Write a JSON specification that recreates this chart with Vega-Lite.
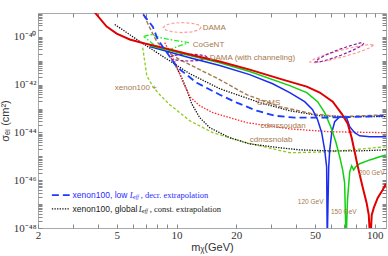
{
"$schema": "https://vega.github.io/schema/vega-lite/v6.json",
"width": 348, "height": 215,
"autosize": {"type": "none"},
"padding": {"left": 38, "top": 13, "right": 2, "bottom": 28},
"background": "white",
"config": {
  "view": {"stroke": "#a4aab0"},
  "axis": {"grid": false, "domain": false, "tickColor": "#888", "tickSize": -4, "labelPadding": 4, "labelFont": "Liberation Serif", "labelFontSize": 11, "labelColor": "#333", "titleFont": "Liberation Sans", "titleFontSize": 11, "titleFontWeight": "normal", "titleColor": "#333", "labelOverlap": false, "labelFlush": false}
},
"datasets": {
"curves": [
{"s":"red","i":0,"m":3.73,"ls":-38.77},{"s":"red","i":1,"m":3.87,"ls":-38.98},{"s":"red","i":2,"m":4.44,"ls":-39.57},{"s":"red","i":3,"m":4.99,"ls":-39.86},{"s":"red","i":4,"m":5.81,"ls":-40.11},{"s":"red","i":5,"m":6.91,"ls":-40.28},{"s":"red","i":6,"m":8.52,"ls":-40.45},{"s":"red","i":7,"m":11.66,"ls":-40.74},{"s":"red","i":8,"m":16.52,"ls":-41.03},{"s":"red","i":9,"m":23.4,"ls":-41.37},{"s":"red","i":10,"m":34.34,"ls":-41.79},{"s":"red","i":11,"m":45.4,"ls":-42.08},{"s":"red","i":12,"m":52.8,"ls":-42.33},{"s":"red","i":13,"m":61.4,"ls":-42.71},{"s":"red","i":14,"m":68.2,"ls":-43.22},{"s":"red","i":15,"m":73.1,"ls":-43.64},{"s":"red","i":16,"m":76.5,"ls":-44.22},{"s":"red","i":17,"m":79.2,"ls":-44.81},{"s":"red","i":18,"m":82.0,"ls":-45.4},{"s":"red","i":19,"m":86.9,"ls":-46.28},{"s":"red","i":20,"m":91.0,"ls":-46.95},{"s":"red","i":21,"m":93.3,"ls":-47.45},{"s":"red","i":22,"m":95.0,"ls":-48.6},{"s":"red","i":23,"m":96.6,"ls":-47.45},{"s":"red","i":24,"m":98.9,"ls":-47.16},{"s":"red","i":25,"m":103.5,"ls":-46.74},{"s":"red","i":26,"m":109.6,"ls":-46.41},{"s":"red","i":27,"m":114,"ls":-46.15},
{"s":"green","i":0,"m":7.32,"ls":-40.36},{"s":"green","i":1,"m":11.66,"ls":-40.78},{"s":"green","i":2,"m":16.52,"ls":-41.08},{"s":"green","i":3,"m":23.4,"ls":-41.45},{"s":"green","i":4,"m":37.26,"ls":-42.04},{"s":"green","i":5,"m":45.4,"ls":-42.33},{"s":"green","i":6,"m":51.5,"ls":-42.71},{"s":"green","i":7,"m":55.9,"ls":-43.17},{"s":"green","i":8,"m":60.0,"ls":-43.76},{"s":"green","i":9,"m":63.6,"ls":-44.39},{"s":"green","i":10,"m":66.6,"ls":-45.02},{"s":"green","i":11,"m":68.9,"ls":-45.57},{"s":"green","i":12,"m":70.5,"ls":-46.11},{"s":"green","i":13,"m":71.7,"ls":-48.6},{"s":"green","i":14,"m":72.9,"ls":-46.82},{"s":"green","i":15,"m":74.8,"ls":-45.65},{"s":"green","i":16,"m":76.5,"ls":-45.4},{"s":"green","i":17,"m":78.3,"ls":-45.57},{"s":"green","i":18,"m":80.1,"ls":-45.44},{"s":"green","i":19,"m":84.0,"ls":-45.31},{"s":"green","i":20,"m":94.4,"ls":-45.15},{"s":"green","i":21,"m":106,"ls":-45.02},{"s":"green","i":22,"m":114,"ls":-44.94},
{"s":"blue","i":0,"m":7.32,"ls":-40.4},{"s":"blue","i":1,"m":11.66,"ls":-40.87},{"s":"blue","i":2,"m":16.52,"ls":-41.2},{"s":"blue","i":3,"m":23.4,"ls":-41.58},{"s":"blue","i":4,"m":30.57,"ls":-41.96},{"s":"blue","i":5,"m":37.26,"ls":-42.33},{"s":"blue","i":6,"m":44.3,"ls":-42.71},{"s":"blue","i":7,"m":48.6,"ls":-43.05},{"s":"blue","i":8,"m":51.5,"ls":-43.47},{"s":"blue","i":9,"m":54.0,"ls":-44.01},{"s":"blue","i":10,"m":55.9,"ls":-44.73},{"s":"blue","i":11,"m":57.2,"ls":-45.44},{"s":"blue","i":12,"m":57.6,"ls":-48.6},{"s":"blue","i":13,"m":58.6,"ls":-45.44},{"s":"blue","i":14,"m":59.3,"ls":-44.73},{"s":"blue","i":15,"m":60.7,"ls":-44.01},{"s":"blue","i":16,"m":62.8,"ls":-43.55},{"s":"blue","i":17,"m":66.6,"ls":-43.34},{"s":"blue","i":18,"m":72.1,"ls":-43.38},{"s":"blue","i":19,"m":74.8,"ls":-43.76},{"s":"blue","i":20,"m":79.2,"ls":-44.01},{"s":"blue","i":21,"m":84.0,"ls":-44.14},{"s":"blue","i":22,"m":94.4,"ls":-44.18},{"s":"blue","i":23,"m":114,"ls":-44.18},
{"s":"bluedash","i":0,"m":6.45,"ls":-38.64},{"s":"bluedash","i":1,"m":6.67,"ls":-38.98},{"s":"bluedash","i":2,"m":7.59,"ls":-39.57},{"s":"bluedash","i":3,"m":8.04,"ls":-40.11},{"s":"bluedash","i":4,"m":8.72,"ls":-40.53},{"s":"bluedash","i":5,"m":10.14,"ls":-41.29},{"s":"bluedash","i":6,"m":12.64,"ls":-41.92},{"s":"bluedash","i":7,"m":16.52,"ls":-42.42},{"s":"bluedash","i":8,"m":20.11,"ls":-42.75},{"s":"bluedash","i":9,"m":25.37,"ls":-43.09},{"s":"bluedash","i":10,"m":31.3,"ls":-43.3},{"s":"bluedash","i":11,"m":39.5,"ls":-43.38},{"s":"bluedash","i":12,"m":52.8,"ls":-43.38},{"s":"bluedash","i":13,"m":74.8,"ls":-43.36},{"s":"bluedash","i":14,"m":114,"ls":-43.3},
{"s":"blackdot","i":0,"m":4.88,"ls":-39.48},{"s":"blackdot","i":1,"m":6.52,"ls":-40.19},{"s":"blackdot","i":2,"m":8.72,"ls":-40.87},{"s":"blackdot","i":3,"m":11.66,"ls":-41.54},{"s":"blackdot","i":4,"m":16.52,"ls":-42.17},{"s":"blackdot","i":5,"m":26.29,"ls":-42.75},{"s":"blackdot","i":6,"m":37.26,"ls":-43.09},{"s":"blackdot","i":7,"m":52.8,"ls":-43.3},{"s":"blackdot","i":8,"m":74.8,"ls":-43.34},{"s":"blackdot","i":9,"m":114,"ls":-43.34},
{"s":"snolab","i":0,"m":9.46,"ls":-40.95},{"s":"snolab","i":1,"m":10.02,"ls":-41.29},{"s":"snolab","i":2,"m":10.62,"ls":-41.71},{"s":"snolab","i":3,"m":11.26,"ls":-42.21},{"s":"snolab","i":4,"m":11.93,"ls":-42.8},{"s":"snolab","i":5,"m":13.09,"ls":-43.38},{"s":"snolab","i":6,"m":14.71,"ls":-43.8},{"s":"snolab","i":7,"m":18.55,"ls":-44.22},{"s":"snolab","i":8,"m":23.4,"ls":-44.48},{"s":"snolab","i":9,"m":33.17,"ls":-44.64},{"s":"snolab","i":10,"m":41.84,"ls":-44.73},{"s":"snolab","i":11,"m":59.3,"ls":-44.77},{"s":"snolab","i":12,"m":84.0,"ls":-44.77},{"s":"snolab","i":13,"m":114,"ls":-44.73},
{"s":"lime","i":0,"m":6.75,"ls":-40.45},{"s":"lime","i":1,"m":6.91,"ls":-41.03},{"s":"lime","i":2,"m":7.08,"ls":-41.62},{"s":"lime","i":3,"m":7.59,"ls":-42.08},{"s":"lime","i":4,"m":8.23,"ls":-42.42},{"s":"lime","i":5,"m":9.24,"ls":-42.84},{"s":"lime","i":6,"m":10.38,"ls":-43.17},{"s":"lime","i":7,"m":11.66,"ls":-43.51},{"s":"lime","i":8,"m":15.23,"ls":-44.01},{"s":"lime","i":9,"m":22.59,"ls":-44.43},{"s":"lime","i":10,"m":37.26,"ls":-44.85},{"s":"lime","i":11,"m":59.3,"ls":-44.81},{"s":"lime","i":12,"m":114,"ls":-44.6},
{"s":"soudan","i":0,"m":8.72,"ls":-40.24},{"s":"soudan","i":1,"m":9.79,"ls":-41.03},{"s":"soudan","i":2,"m":10.74,"ls":-41.87},{"s":"soudan","i":3,"m":11.66,"ls":-42.5},{"s":"soudan","i":4,"m":13.09,"ls":-42.88},{"s":"soudan","i":5,"m":15.23,"ls":-43.17},{"s":"soudan","i":6,"m":22.59,"ls":-43.59},{"s":"soudan","i":7,"m":37.26,"ls":-43.85},{"s":"soudan","i":8,"m":59.3,"ls":-43.97},{"s":"soudan","i":9,"m":114,"ls":-44.01},
{"s":"cdms","i":0,"m":6.52,"ls":-38.64},{"s":"cdms","i":1,"m":6.75,"ls":-38.98},{"s":"cdms","i":2,"m":7.32,"ls":-39.61},{"s":"cdms","i":3,"m":7.94,"ls":-40.19},{"s":"cdms","i":4,"m":8.72,"ls":-40.57},{"s":"cdms","i":5,"m":10.38,"ls":-40.95},{"s":"cdms","i":6,"m":13.09,"ls":-41.37},{"s":"cdms","i":7,"m":16.52,"ls":-41.79},{"s":"cdms","i":8,"m":22.59,"ls":-42.42},{"s":"cdms","i":9,"m":33.17,"ls":-42.92},{"s":"cdms","i":10,"m":48.6,"ls":-43.22},{"s":"cdms","i":11,"m":66.6,"ls":-43.34},{"s":"cdms","i":12,"m":114,"ls":-43.26},
{"s":"dama","i":0,"m":13.32,"ls":-39.61},{"s":"dama","i":1,"m":12.94,"ls":-39.71},{"s":"dama","i":2,"m":11.93,"ls":-39.79},{"s":"dama","i":3,"m":10.68,"ls":-39.82},{"s":"dama","i":4,"m":9.57,"ls":-39.79},{"s":"dama","i":5,"m":8.82,"ls":-39.71},{"s":"dama","i":6,"m":8.57,"ls":-39.61},{"s":"dama","i":7,"m":8.82,"ls":-39.5},{"s":"dama","i":8,"m":9.57,"ls":-39.43},{"s":"dama","i":9,"m":10.68,"ls":-39.4},{"s":"dama","i":10,"m":11.93,"ls":-39.43},{"s":"dama","i":11,"m":12.94,"ls":-39.5},{"s":"dama","i":12,"m":13.32,"ls":-39.61},
{"s":"pinkR","i":0,"m":98.7,"ls":-40.34},{"s":"pinkR","i":1,"m":94.5,"ls":-40.46},{"s":"pinkR","i":2,"m":82.9,"ls":-40.64},{"s":"pinkR","i":3,"m":68.9,"ls":-40.84},{"s":"pinkR","i":4,"m":57.1,"ls":-41.0},{"s":"pinkR","i":5,"m":49.8,"ls":-41.08},{"s":"pinkR","i":6,"m":47.1,"ls":-41.05},{"s":"pinkR","i":7,"m":49.2,"ls":-40.94},{"s":"pinkR","i":8,"m":56.1,"ls":-40.75},{"s":"pinkR","i":9,"m":67.5,"ls":-40.56},{"s":"pinkR","i":10,"m":81.3,"ls":-40.4},{"s":"pinkR","i":11,"m":93.5,"ls":-40.32},{"s":"pinkR","i":12,"m":98.7,"ls":-40.34},
{"s":"chan","i":0,"m":14.37,"ls":-40.87},{"s":"chan","i":1,"m":13.96,"ls":-40.94},{"s":"chan","i":2,"m":12.87,"ls":-40.99},{"s":"chan","i":3,"m":11.52,"ls":-41.01},{"s":"chan","i":4,"m":10.32,"ls":-40.99},{"s":"chan","i":5,"m":9.51,"ls":-40.94},{"s":"chan","i":6,"m":9.24,"ls":-40.87},{"s":"chan","i":7,"m":9.51,"ls":-40.79},{"s":"chan","i":8,"m":10.32,"ls":-40.74},{"s":"chan","i":9,"m":11.52,"ls":-40.72},{"s":"chan","i":10,"m":12.87,"ls":-40.74},{"s":"chan","i":11,"m":13.96,"ls":-40.79},{"s":"chan","i":12,"m":14.37,"ls":-40.87},
{"s":"purpleR","i":0,"m":88.3,"ls":-40.27},{"s":"purpleR","i":1,"m":85.5,"ls":-40.38},{"s":"purpleR","i":2,"m":77.5,"ls":-40.56},{"s":"purpleR","i":3,"m":67.5,"ls":-40.77},{"s":"purpleR","i":4,"m":58.4,"ls":-40.95},{"s":"purpleR","i":5,"m":52.5,"ls":-41.05},{"s":"purpleR","i":6,"m":50.2,"ls":-41.04},{"s":"purpleR","i":7,"m":51.9,"ls":-40.93},{"s":"purpleR","i":8,"m":57.2,"ls":-40.74},{"s":"purpleR","i":9,"m":65.8,"ls":-40.53},{"s":"purpleR","i":10,"m":75.9,"ls":-40.36},{"s":"purpleR","i":11,"m":84.5,"ls":-40.25},{"s":"purpleR","i":12,"m":88.3,"ls":-40.27},
{"s":"cogent","i":0,"m":6.83,"ls":-39.98},{"s":"cogent","i":1,"m":7.5,"ls":-39.9},{"s":"cogent","i":2,"m":8.23,"ls":-40.03},{"s":"cogent","i":3,"m":9.79,"ls":-40.15},{"s":"cogent","i":4,"m":11.52,"ls":-40.24},{"s":"cogent","i":5,"m":10.14,"ls":-40.4},{"s":"cogent","i":6,"m":9.03,"ls":-40.57},{"s":"cogent","i":7,"m":8.04,"ls":-40.45},{"s":"cogent","i":8,"m":7.32,"ls":-40.19},{"s":"cogent","i":9,"m":6.83,"ls":-39.98},
{"s":"legblue","i":0,"m":2.35,"ls":-46.62},{"s":"legblue","i":1,"m":2.89,"ls":-46.62},
{"s":"legblack","i":0,"m":2.35,"ls":-47.2},{"s":"legblack","i":1,"m":2.89,"ls":-47.2}
]
},
"layer": [
{"layer": [
 {"data": {"name": "curves"}, "transform": [{"filter": "datum.s == 'lime'"}], "mark": {"type": "line", "clip": true, "color": "#8ccc1e", "strokeWidth": 1.3, "strokeDash": [3, 2]}},
 {"data": {"name": "curves"}, "transform": [{"filter": "datum.s == 'snolab' || datum.s == 'blackdot' || datum.s == 'legblack'"}], "mark": {"type": "line", "clip": true, "color": "#111", "strokeWidth": 1.3, "strokeDash": [1.3, 1.3]}, "encoding": {"detail": {"field": "s"}}},
 {"data": {"name": "curves"}, "transform": [{"filter": "datum.s == 'soudan'"}], "mark": {"type": "line", "clip": true, "color": "#ff2a2a", "strokeWidth": 1.3, "strokeDash": [1.5, 1.5]}},
 {"data": {"name": "curves"}, "transform": [{"filter": "datum.s == 'cdms'"}], "mark": {"type": "line", "clip": true, "color": "#a8784c", "strokeWidth": 1.4, "strokeDash": [4, 2]}},
 {"data": {"name": "curves"}, "transform": [{"filter": "datum.s == 'dama' || datum.s == 'pinkR'"}], "mark": {"type": "line", "clip": true, "color": "#ff9a9a", "strokeWidth": 1.2, "strokeDash": [3, 2]}, "encoding": {"detail": {"field": "s"}}},
 {"data": {"name": "curves"}, "transform": [{"filter": "datum.s == 'chan' || datum.s == 'purpleR'"}], "mark": {"type": "line", "clip": true, "color": "#8a1aa0", "strokeWidth": 1.2, "strokeDash": [3, 2]}, "encoding": {"detail": {"field": "s"}}},
 {"data": {"name": "curves"}, "transform": [{"filter": "datum.s == 'cogent'"}], "mark": {"type": "line", "clip": true, "color": "#22ee22", "strokeWidth": 1.3, "strokeDash": [5, 2, 1.5, 2]}},
 {"data": {"name": "curves"}, "transform": [{"filter": "datum.s == 'blue'"}], "mark": {"type": "line", "clip": true, "color": "#1c2cf0", "strokeWidth": 1.5}},
 {"data": {"name": "curves"}, "transform": [{"filter": "datum.s == 'green'"}], "mark": {"type": "line", "clip": true, "color": "#10d010", "strokeWidth": 1.5}},
 {"data": {"name": "curves"}, "transform": [{"filter": "datum.s == 'red'"}], "mark": {"type": "line", "clip": true, "color": "#e00000", "strokeWidth": 2}},
 {"data": {"name": "curves"}, "transform": [{"filter": "datum.s == 'bluedash' || datum.s == 'legblue'"}], "mark": {"type": "line", "clip": true, "color": "#1a3cff", "strokeWidth": 1.8, "strokeDash": [7, 4]}, "encoding": {"detail": {"field": "s"}}},
 {"data": {"values": [
   {"t": "DAMA", "m": 13.56, "ls": -39.61},
   {"t": "CoGeNT", "m": 12.07, "ls": -40.32},
   {"t": "DAMA (with channeling)", "m": 14.71, "ls": -40.87},
   {"t": "xenon100 +", "m": 4.88, "ls": -42.15},
   {"t": "CDMS", "m": 25.37, "ls": -42.75},
   {"t": "cdmssoudan", "m": 26.5, "ls": -43.72},
   {"t": "cdmssnolab", "m": 23.4, "ls": -44.31}
  ]},
  "mark": {"type": "text", "align": "left", "baseline": "middle", "font": "Liberation Sans", "fontSize": 8, "color": "#a57a50"}, "encoding": {"text": {"field": "t"}}},
 {"data": {"values": [
   {"t": "120 GeV", "m": 47.5, "ls": -46.91},
   {"t": "150 GeV", "m": 69.8, "ls": -47.33},
   {"t": "200 GeV", "m": 96.6, "ls": -45.69}
  ]},
  "mark": {"type": "text", "align": "center", "baseline": "middle", "font": "Liberation Sans", "fontSize": 6.5, "color": "#a57a50"}, "encoding": {"text": {"field": "t"}}},
 {"data": {"values": [
   {"t": "xenon100, low", "m": 2.99, "ls": -46.62, "c": "b"},
   {"t": "xenon100, global", "m": 2.99, "ls": -47.2, "c": "k"}
  ]},
  "mark": {"type": "text", "align": "left", "baseline": "middle", "font": "Liberation Sans", "fontSize": 8.5}, "encoding": {"text": {"field": "t"}, "color": {"field": "c", "type": "nominal", "scale": {"domain": ["b", "k"], "range": ["#2a2aff", "#222"]}, "legend": null}}},
 {"data": {"values": [
   {"t": "L", "m": 5.81, "ls": -46.62, "c": "b"},
   {"t": "L", "m": 6.45, "ls": -47.2, "c": "k"}
  ]},
  "mark": {"type": "text", "align": "left", "baseline": "middle", "font": "Liberation Serif", "fontStyle": "italic", "fontSize": 8.5}, "encoding": {"text": {"field": "t"}, "color": {"field": "c", "type": "nominal", "scale": {"domain": ["b", "k"], "range": ["#2a2aff", "#222"]}, "legend": null}}},
 {"data": {"values": [
   {"t": "eff", "m": 6.05, "ls": -46.72, "c": "b"},
   {"t": "eff", "m": 6.71, "ls": -47.3, "c": "k"}
  ]},
  "mark": {"type": "text", "align": "left", "baseline": "middle", "font": "Liberation Serif", "fontStyle": "italic", "fontSize": 5.5}, "encoding": {"text": {"field": "t"}, "color": {"field": "c", "type": "nominal", "scale": {"domain": ["b", "k"], "range": ["#2a2aff", "#222"]}, "legend": null}}},
 {"data": {"values": [
   {"t": ", decr. extrapolation", "m": 6.6, "ls": -46.62, "c": "b"},
   {"t": ", const. extrapolation", "m": 7.32, "ls": -47.2, "c": "k"}
  ]},
  "mark": {"type": "text", "align": "left", "baseline": "middle", "font": "Liberation Serif", "fontSize": 8.5}, "encoding": {"text": {"field": "t"}, "color": {"field": "c", "type": "nominal", "scale": {"domain": ["b", "k"], "range": ["#2a2aff", "#222"]}, "legend": null}}}
 ],
 "encoding": {
  "x": {"field": "m", "type": "quantitative", "scale": {"type": "log", "domain": [2, 114], "nice": false},
   "axis": {"values": [2,3,4,5,6,7,8,9,10,20,30,40,50,60,70,80,90,100], "labelExpr": "indexof([2,5,10,20,50,100], datum.value) >= 0 ? datum.label : ''", "labelPadding": 5, "title": "mᵪ(GeV)", "titlePadding": 1}},
  "y": {"field": "ls", "type": "quantitative", "scale": {"domain": [-48, -39], "nice": false, "zero": false},
   "axis": {"values": [-48,-47.699,-47.523,-47.398,-47.301,-47.222,-47.155,-47.097,-47.046,-47,-46.699,-46.523,-46.398,-46.301,-46.222,-46.155,-46.097,-46.046,-46,-45.699,-45.523,-45.398,-45.301,-45.222,-45.155,-45.097,-45.046,-45,-44.699,-44.523,-44.398,-44.301,-44.222,-44.155,-44.097,-44.046,-44,-43.699,-43.523,-43.398,-43.301,-43.222,-43.155,-43.097,-43.046,-43,-42.699,-42.523,-42.398,-42.301,-42.222,-42.155,-42.097,-42.046,-42,-41.699,-41.523,-41.398,-41.301,-41.222,-41.155,-41.097,-41.046,-41,-40.699,-40.523,-40.398,-40.301,-40.222,-40.155,-40.097,-40.046,-40,-39.699,-39.523,-39.398,-39.301,-39.222,-39.155,-39.097,-39.046],
    "labelExpr": "datum.value == -48 ? '10⁻⁴⁸' : datum.value == -46 ? '10⁻⁴⁶' : datum.value == -44 ? '10⁻⁴⁴' : datum.value == -42 ? '10⁻⁴²' : datum.value == -40 ? '10⁻⁴⁰' : ''",
    "labelPadding": 6, "title": "σₑₗ (cm²)", "titlePadding": 3}},
  "order": {"field": "i", "type": "quantitative"}
 }
},
{"data": {"values": [{"m": 10, "ls": -44}]},
 "mark": {"type": "point", "opacity": 0},
 "encoding": {
  "x": {"field": "m", "type": "quantitative", "scale": {"type": "log", "domain": [2, 114], "nice": false},
   "axis": {"orient": "top", "labels": false, "title": null, "values": [2,3,4,5,6,7,8,9,10,20,30,40,50,60,70,80,90,100]}},
  "y": {"field": "ls", "type": "quantitative", "scale": {"domain": [-48, -39], "nice": false, "zero": false},
   "axis": {"orient": "right", "labels": false, "title": null, "values": [-48,-47.699,-47.523,-47.398,-47.301,-47.222,-47.155,-47.097,-47.046,-47,-46.699,-46.523,-46.398,-46.301,-46.222,-46.155,-46.097,-46.046,-46,-45.699,-45.523,-45.398,-45.301,-45.222,-45.155,-45.097,-45.046,-45,-44.699,-44.523,-44.398,-44.301,-44.222,-44.155,-44.097,-44.046,-44,-43.699,-43.523,-43.398,-43.301,-43.222,-43.155,-43.097,-43.046,-43,-42.699,-42.523,-42.398,-42.301,-42.222,-42.155,-42.097,-42.046,-42,-41.699,-41.523,-41.398,-41.301,-41.222,-41.155,-41.097,-41.046,-41,-40.699,-40.523,-40.398,-40.301,-40.222,-40.155,-40.097,-40.046,-40,-39.699,-39.523,-39.398,-39.301,-39.222,-39.155,-39.097,-39.046]}}
 }
}
],
"resolve": {"axis": {"x": "independent", "y": "independent"}}
}
